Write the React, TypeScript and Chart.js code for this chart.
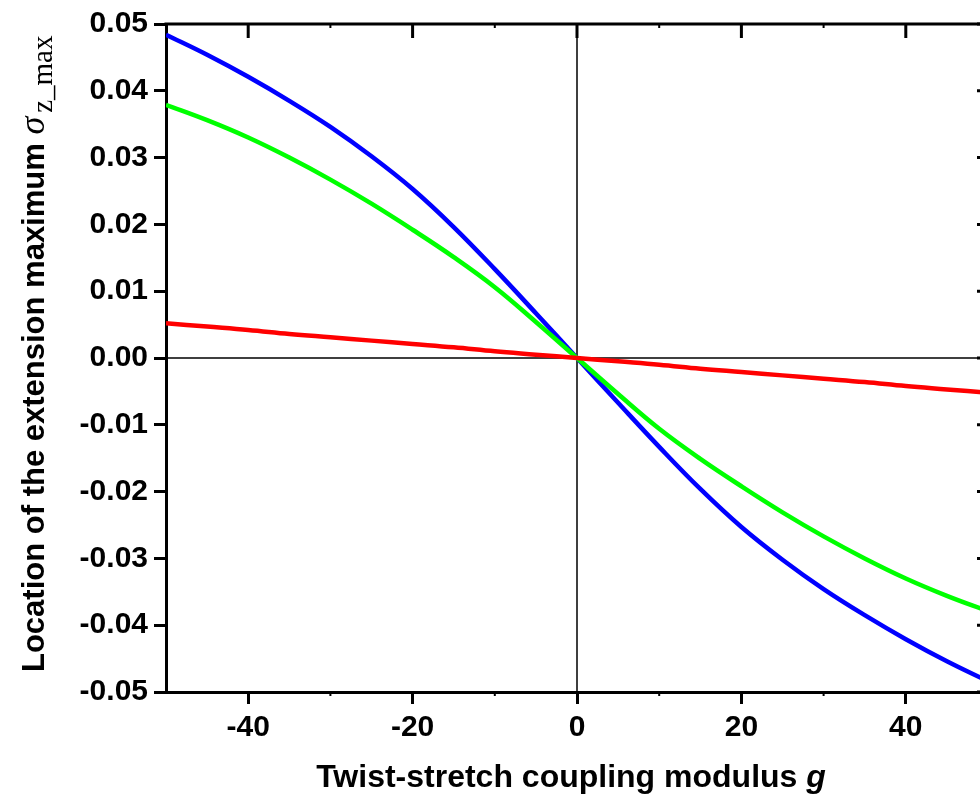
import React, { useEffect, useRef } from "react";
import { Chart, registerables } from "chart.js";

Chart.register(...registerables);

const gValues = [-50, -45, -40, -35, -30, -25, -20, -15, -10, -5, 0, 5, 10, 15, 20, 25, 30, 35, 40, 45, 50];
const blueSeries = [0.0484, 0.0454, 0.0421, 0.0385, 0.0346, 0.0302, 0.0253, 0.0196, 0.0133, 0.0067, 0, -0.0067, -0.0133, -0.0196, -0.0253, -0.0302, -0.0346, -0.0385, -0.0421, -0.0454, -0.0484];
const greenSeries = [0.0379, 0.0356, 0.033, 0.03, 0.0267, 0.0231, 0.0192, 0.0151, 0.0106, 0.0054, 0, -0.0054, -0.0106, -0.0151, -0.0192, -0.0231, -0.0267, -0.03, -0.033, -0.0356, -0.0379];
const redSeries = [0.0052, 0.0047, 0.0042, 0.0036, 0.0031, 0.0026, 0.0021, 0.0016, 0.001, 0.0005, 0, -0.0005, -0.001, -0.0016, -0.0021, -0.0026, -0.0031, -0.0036, -0.0042, -0.0047, -0.0052];

const xMajorTicks = [-40, -20, 0, 20, 40];
const xMinorTicks = [-30, -10, 10, 30];
const yTicks = [-0.05, -0.04, -0.03, -0.02, -0.01, 0, 0.01, 0.02, 0.03, 0.04, 0.05];

const xTitleMain = "Twist-stretch coupling modulus ";
const xTitleVar = "g";
const yTitleMain = "Location of the extension maximum ";
const yTitleSym = "σ";
const yTitleSub = "z_max";

const SANS = '"Liberation Sans", Arial, sans-serif';
const SERIF = '"Liberation Serif", "Times New Roman", serif';

const framePlugin = {
  id: "frame",
  beforeDatasetsDraw(chart: any) {
    const { ctx, chartArea, scales } = chart;
    const x0 = scales.x.getPixelForValue(0);
    const y0 = scales.y.getPixelForValue(0);
    ctx.save();
    ctx.strokeStyle = "#000";
    ctx.lineWidth = 1.5;
    ctx.beginPath();
    ctx.moveTo(x0, chartArea.top);
    ctx.lineTo(x0, chartArea.bottom);
    ctx.moveTo(chartArea.left, y0);
    ctx.lineTo(chartArea.right, y0);
    ctx.stroke();
    ctx.restore();
  },
  afterDraw(chart: any) {
    const { ctx, chartArea, scales } = chart;
    const { left, right, top, bottom } = chartArea;
    ctx.save();
    ctx.strokeStyle = "#000";
    ctx.lineCap = "butt";
    ctx.lineWidth = 3;
    ctx.beginPath();
    ctx.moveTo(left - 1.5, top);
    ctx.lineTo(right + 1.5, top);
    ctx.moveTo(right, top);
    ctx.lineTo(right, bottom);
    ctx.stroke();
    ctx.beginPath();
    xMajorTicks.forEach((v) => {
      const px = scales.x.getPixelForValue(v);
      ctx.moveTo(px, top);
      ctx.lineTo(px, top + 14);
    });
    yTicks.forEach((v) => {
      const py = scales.y.getPixelForValue(v);
      ctx.moveTo(right, py);
      ctx.lineTo(right - 11, py);
    });
    ctx.stroke();
    ctx.lineWidth = 2;
    ctx.beginPath();
    xMinorTicks.forEach((v) => {
      const px = scales.x.getPixelForValue(v);
      ctx.moveTo(px, top);
      ctx.lineTo(px, top + 4);
      ctx.moveTo(px, bottom);
      ctx.lineTo(px, bottom + 4);
    });
    ctx.stroke();

    // x title
    ctx.fillStyle = "#000";
    ctx.textBaseline = "alphabetic";
    ctx.textAlign = "left";
    const fMain = `bold 32px ${SANS}`;
    const fVar = `italic bold 32px ${SANS}`;
    ctx.font = fMain;
    const w1 = ctx.measureText(xTitleMain).width;
    ctx.font = fVar;
    const w2 = ctx.measureText(xTitleVar).width;
    const xStart = 571 - (w1 + w2) / 2;
    ctx.font = fMain;
    ctx.fillText(xTitleMain, xStart, 787);
    ctx.font = fVar;
    ctx.fillText(xTitleVar, xStart + w1, 787);

    // y title (rotated)
    ctx.save();
    ctx.translate(44, 672);
    ctx.rotate(-Math.PI / 2);
    ctx.font = `bold 31px ${SANS}`;
    ctx.fillText(yTitleMain, 0, 0);
    const m = ctx.measureText(yTitleMain).width;
    ctx.font = `italic 36px ${SERIF}`;
    ctx.fillText(yTitleSym, m, 0);
    const s = ctx.measureText(yTitleSym).width;
    ctx.font = `29px ${SERIF}`;
    ctx.fillText(yTitleSub, m + s + 4, 8);
    ctx.restore();
    ctx.restore();
  },
};

export default function App() {
  const canvasRef = useRef<HTMLCanvasElement | null>(null);

  useEffect(() => {
    if (!canvasRef.current) return;
    const mk = (data: number[], color: string) => ({
      data: gValues.map((g, i) => ({ x: g, y: data[i] })),
      borderColor: color,
      backgroundColor: color,
      borderWidth: 4.5,
      pointRadius: 0,
      tension: 0.4,
      fill: false,
    });
    const chart = new Chart(canvasRef.current, {
      type: "line",
      data: {
        datasets: [mk(redSeries, "#ff0000"), mk(greenSeries, "#00ff00"), mk(blueSeries, "#0000ff")],
      },
      options: {
        animation: false,
        responsive: false,
        devicePixelRatio: 1,
        layout: { padding: { left: 0, top: 22, right: 12, bottom: 0 } },
        plugins: { legend: { display: false }, tooltip: { enabled: false } },
        scales: {
          x: {
            type: "linear",
            min: -50,
            max: 50,
            afterBuildTicks: (scale: any) => {
              scale.ticks = xMajorTicks.map((v) => ({ value: v }));
            },
            afterFit: (scale: any) => {
              scale.height = 107;
            },
            ticks: {
              color: "#000",
              font: { family: SANS, weight: "bold", size: 30 },
              padding: 6,
              maxRotation: 0,
              autoSkip: false,
              callback: (v: any) => String(v),
            },
            grid: {
              drawOnChartArea: false,
              drawTicks: true,
              tickLength: 12,
              tickWidth: 3,
              tickColor: "#000",
              color: "#000",
              lineWidth: 3,
            },
            border: { display: true, color: "#000", width: 3 },
          },
          y: {
            type: "linear",
            min: -0.05,
            max: 0.05,
            afterBuildTicks: (scale: any) => {
              scale.ticks = yTicks.map((v) => ({ value: v }));
            },
            afterFit: (scale: any) => {
              scale.width = 166;
            },
            ticks: {
              color: "#000",
              font: { family: SANS, weight: "bold", size: 30 },
              padding: 6,
              autoSkip: false,
              callback: (v: any) => Number(v).toFixed(2),
            },
            grid: {
              drawOnChartArea: false,
              drawTicks: true,
              tickLength: 12,
              tickWidth: 3,
              tickColor: "#000",
              color: "#000",
              lineWidth: 3,
            },
            border: { display: true, color: "#000", width: 3 },
          },
        },
      },
      plugins: [framePlugin],
    } as any);
    return () => chart.destroy();
  }, []);

  return (
    <div style={{ position: "fixed", left: 0, top: 0, width: 980, height: 799, overflow: "hidden", background: "#fff" }}>
      <canvas ref={canvasRef} width={1000} height={799} style={{ display: "block", width: 1000, height: 799 }} />
    </div>
  );
}
